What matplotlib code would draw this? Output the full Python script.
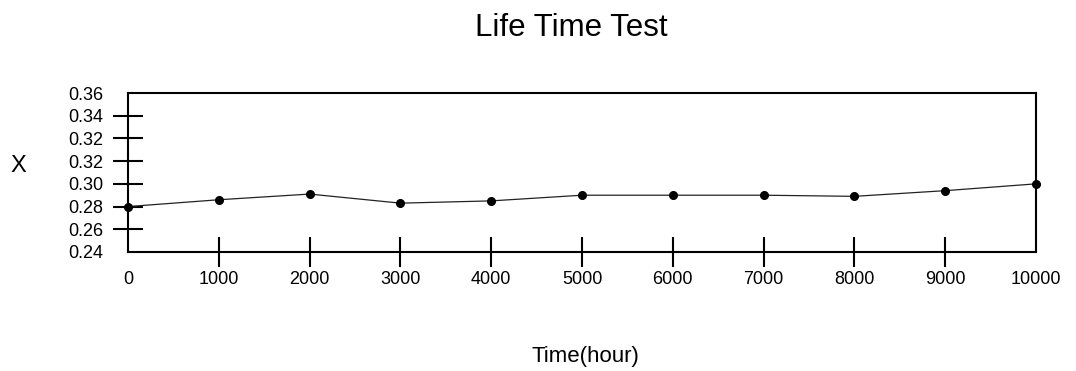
import matplotlib.pyplot as plt
import numpy as np

plt.rcParams['font.family'] = ['Liberation Sans', 'DejaVu Sans']

hours = [0, 1000, 2000, 3000, 4000, 5000, 6000, 7000, 8000, 9000, 10000]
x_vals = [0.280, 0.286, 0.291, 0.283, 0.285, 0.290, 0.290, 0.290, 0.289, 0.294, 0.300]

y_ticks = [0.24, 0.26, 0.28, 0.30, 0.32, 0.34, 0.36, 0.38]
y_labels = ['0.24', '0.26', '0.28', '0.30', '0.32', '0.32', '0.34', '0.36']
x_ticks = [0, 1000, 2000, 3000, 4000, 5000, 6000, 7000, 8000, 9000, 10000]

fig = plt.figure(figsize=(10.76, 3.71), dpi=100)
ax = fig.add_axes([0.119, 0.3208, 0.8438, 0.4285])

ax.plot(hours, x_vals, color='#222222', lw=0.9, marker='o', ms=5.5,
        mfc='black', mec='black', clip_on=False, zorder=3)

ax.set_xlim(0, 10000)
ax.set_ylim(0.24, 0.38)

# labels on every tick, the drawn tick marks only on the inner ones
ax.set_xticks(x_ticks)
ax.set_xticklabels([str(t) for t in x_ticks])
ax.set_yticks(y_ticks)
ax.set_yticklabels(y_labels)
ax.tick_params(which='major', length=0, labelsize=13)
ax.tick_params(axis='x', which='major', pad=13.5)
ax.tick_params(axis='y', which='major', pad=18)

ax.xaxis.remove_overlapping_locs = False
ax.yaxis.remove_overlapping_locs = False
ax.set_xticks(x_ticks[1:-1], minor=True)
ax.set_yticks(y_ticks[1:-1], minor=True)
ax.tick_params(which='minor', direction='inout', length=22, width=1.5)

for s in ax.spines.values():
    s.set_linewidth(1.5)

fig.text(0.5307, 0.925, 'Life Time Test', ha='center', va='center', fontsize=22.5)
fig.text(0.5437, 0.040, 'Time(hour)', ha='center', va='center', fontsize=16)
fig.text(0.0167, 0.553, 'X', ha='center', va='center', fontsize=17)

fig.savefig('out.png', dpi=100)
